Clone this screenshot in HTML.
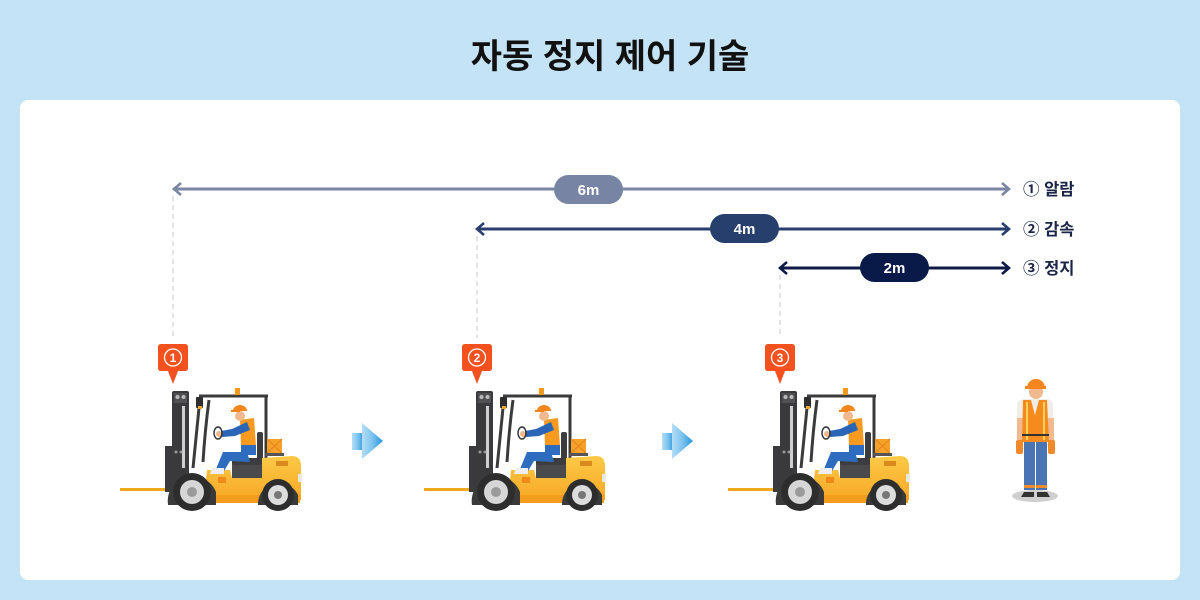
<!DOCTYPE html>
<html><head><meta charset="utf-8"><style>
html,body{margin:0;padding:0;background:#c5e3f6;}
svg{display:block;}
</style></head><body>
<svg width="1200" height="600" viewBox="0 0 1200 600" xmlns="http://www.w3.org/2000/svg" font-family="'Liberation Sans','Noto Sans CJK KR',sans-serif">
<defs>
<linearGradient id="ag" x1="0" x2="1" y1="0" y2="0">
<stop offset="0" stop-color="#b3def6"/><stop offset="0.5" stop-color="#7cc2ee"/><stop offset="1" stop-color="#2596dd"/>
</linearGradient>
<linearGradient id="body" x1="0" x2="0" y1="0" y2="1">
<stop offset="0" stop-color="#fcc947"/><stop offset="1" stop-color="#f7a623"/>
</linearGradient>
<g id="fork">
<rect x="120" y="488" width="55" height="3" fill="#f6a81d"/>
<rect x="165" y="446" width="9" height="46" fill="#3a3a3c"/>
<rect x="172" y="391" width="17" height="104" rx="2" fill="#3a3a3c"/>
<rect x="174" y="393" width="13" height="10" fill="#505052"/>
<circle cx="177.5" cy="397" r="2" fill="#bbb"/><circle cx="183.5" cy="397" r="2" fill="#bbb"/>
<rect x="182" y="406" width="3" height="62" fill="#cfcfcf"/>
<circle cx="176" cy="452" r="1.5" fill="#999"/><circle cx="181" cy="452" r="1.5" fill="#999"/>
<path d="M199,396 L268,396 M266,396 L266,458 M200,398 L193,468 M209,400 Q205,430 203,462" stroke="#3b3b3d" stroke-width="3" fill="none"/>
<rect x="196" y="397" width="7" height="11" rx="1" fill="#2e2e30"/>
<rect x="198" y="406" width="4" height="3" fill="#f2a52a"/>
<rect x="235" y="388" width="5" height="7" fill="#f29a1f"/>
<rect x="267" y="439" width="15" height="14" fill="#f6a12a"/>
<path d="M267,439 L282,453 M282,439 L267,453" stroke="#e2841c" stroke-width="1"/>
<rect x="265" y="453" width="19" height="3" fill="#555"/>
<rect x="257" y="432" width="6" height="30" rx="2" fill="#3c3c3e"/>
<rect x="232" y="458" width="30" height="8" rx="2" fill="#3c3c3e"/>
<rect x="232" y="465" width="30" height="14" fill="#4a4a4c"/>
<path d="M207,470 L230,470 L232,478 L262,478 L262,458 L292,456 Q301,456 301,466 L301,500 L210,503 L205,490 Z" fill="url(#body)"/>
<rect x="210" y="495" width="90" height="8" fill="#f49d1c"/>
<rect x="276" y="461" width="12" height="5" fill="#d98a1a"/>
<rect x="298" y="474" width="4" height="8" fill="#e8e8e8"/>
<rect x="218" y="477" width="8" height="6" fill="#f08a18"/>
<path d="M168,505 A25,25 0 0 1 216,492 L216,505 Z" fill="#3a3a3a"/>
<path d="M258,505 A21,21 0 0 1 298,495 L298,505 Z" fill="#3a3a3a"/>
<circle cx="192" cy="492" r="19" fill="#2d2d2d"/>
<circle cx="192" cy="492" r="12" fill="#d6d6d6"/>
<circle cx="192" cy="492" r="5" fill="#9a9a9a"/>
<circle cx="278" cy="495" r="16" fill="#2d2d2d"/>
<circle cx="278" cy="495" r="10" fill="#dcdcdc"/>
<circle cx="278" cy="495" r="4" fill="#777"/>
<!-- driver -->
<path d="M247,452 L223,452 L216,469 L224,471 L230,461 L250,462 Z" fill="#2e6cc0"/>
<path d="M212,468 L224,468 L224,474 L210,474 Z" fill="#eee"/>
<path d="M240,420 L254,418 L256,446 L241,447 Z" fill="#f79a1f"/>
<path d="M247,422 L232,429 L221,431 L222,437 L235,436 L250,430 Z" fill="#2b65b6"/>
<circle cx="219" cy="434" r="3" fill="#f0b98f"/>
<ellipse cx="218" cy="433" rx="4" ry="6" fill="none" stroke="#333" stroke-width="1.5"/>
<circle cx="240" cy="416" r="5" fill="#f0b98f"/>
<path d="M233,411 A7,6 0 0 1 247,411 Z" fill="#f5851f"/>
<rect x="231" y="410" width="9" height="2" fill="#f5851f"/>
<rect x="241" y="445" width="15" height="10" fill="#2e6cc0"/>
</g>
<g id="pin">
<path d="M158,347 Q158,344 161,344 L185,344 Q188,344 188,347 L188,368 Q188,371 185,371 L178,371 L173,384 L168,371 L161,371 Q158,371 158,368 Z" fill="#f4511e"/>
<circle cx="173" cy="357.5" r="8.5" fill="none" stroke="#fff" stroke-width="1.3"/>
</g>
<g id="barrow">
<rect x="352" y="433" width="12" height="17" fill="url(#ag)"/>
<path d="M362,423 L383,441 L362,459 Z" fill="url(#ag)"/>
</g>
</defs>

<rect width="1200" height="600" fill="#c5e3f6"/>
<text x="610" y="68" text-anchor="middle" font-size="34" font-weight="bold" fill="#111">자동 정지 제어 기술</text>
<rect x="20" y="100" width="1160" height="480" rx="8" fill="#fff"/>

<path d="M173,196 V338 M477,236 V338 M780,275 V338" stroke="#dcdcdc" stroke-width="1.5" stroke-dasharray="5,4"/>

<path d="M173,189 H1009" stroke="#7b87a4" stroke-width="3"/>
<path d="M181,183 L174,189 L181,195 M1002,183 L1009,189 L1002,195" stroke="#7b87a4" stroke-width="2.6" fill="none"/>
<rect x="554" y="175" width="69" height="29" rx="14.5" fill="#7784a3"/>
<text x="588.5" y="195" text-anchor="middle" font-size="15" font-weight="bold" fill="#fff">6m</text>
<path d="M477,229 H1009" stroke="#2a3f6e" stroke-width="3"/>
<path d="M484,223 L477,229 L484,235 M1002,223 L1009,229 L1002,235" stroke="#2a3f6e" stroke-width="2.6" fill="none"/>
<rect x="710" y="214" width="69" height="29" rx="14.5" fill="#263f6d"/>
<text x="744.5" y="234" text-anchor="middle" font-size="15" font-weight="bold" fill="#fff">4m</text>
<path d="M780,268 H1009" stroke="#0e1a45" stroke-width="3"/>
<path d="M787,262 L780,268 L787,274 M1002,262 L1009,268 L1002,274" stroke="#0e1a45" stroke-width="2.6" fill="none"/>
<rect x="860" y="253" width="69" height="29" rx="14.5" fill="#0a1a48"/>
<text x="894.5" y="273" text-anchor="middle" font-size="15" font-weight="bold" fill="#fff">2m</text>

<g font-size="16.5" font-weight="bold" fill="#1b2547">
<text x="1023" y="195">① 알람</text>
<text x="1023" y="235">② 감속</text>
<text x="1023" y="274">③ 정지</text>
</g>

<use href="#pin"/>
<use href="#pin" transform="translate(304,0)"/>
<use href="#pin" transform="translate(607,0)"/>
<g font-size="12" font-weight="bold" fill="#fff" text-anchor="middle">
<text x="173" y="362">1</text>
<text x="477" y="362">2</text>
<text x="780" y="362">3</text>
</g>

<use href="#fork"/>
<use href="#fork" transform="translate(304,0)"/>
<use href="#fork" transform="translate(608,0)"/>

<use href="#barrow"/>
<use href="#barrow" transform="translate(310,0)"/>

<ellipse cx="1035" cy="496" rx="23" ry="6" fill="#cfcfcf"/>
<rect x="1024" y="440" width="11" height="50" fill="#4a74b4"/>
<rect x="1036" y="440" width="11" height="50" fill="#4a74b4"/>
<rect x="1024" y="485" width="11" height="3" fill="#f28a2a"/>
<rect x="1036" y="485" width="11" height="3" fill="#f28a2a"/>
<path d="M1024,492 L1034,492 L1034,497 L1021,497 Z M1037,492 L1047,492 L1050,497 L1037,497 Z" fill="#333"/>
<path d="M1017,405 Q1017,400 1024,399 L1047,399 Q1053,400 1053,405 L1053,420 L1017,420 Z" fill="#f1ede6"/>
<rect x="1017" y="418" width="6" height="23" fill="#f0b98f"/>
<rect x="1048" y="418" width="6" height="23" fill="#f0b98f"/>
<rect x="1016" y="440" width="7" height="14" rx="2" fill="#f28a2a"/>
<rect x="1048" y="440" width="7" height="14" rx="2" fill="#f28a2a"/>
<path d="M1023,400 L1031,400 L1035,415 L1039,400 L1047,400 L1049,442 L1022,442 Z" fill="#f58a1f"/>
<path d="M1027,402 V440 M1044,402 V440" stroke="#f8d05a" stroke-width="2"/>
<rect x="1022" y="434" width="27" height="2" fill="#333"/>
<circle cx="1036" cy="392" r="7" fill="#f0b98f"/>
<path d="M1027,388 A9,9 0 0 1 1045,388 Z" fill="#f5851f"/>
<rect x="1025" y="386" width="21" height="3" fill="#f5851f"/>
</svg>
</body></html>
